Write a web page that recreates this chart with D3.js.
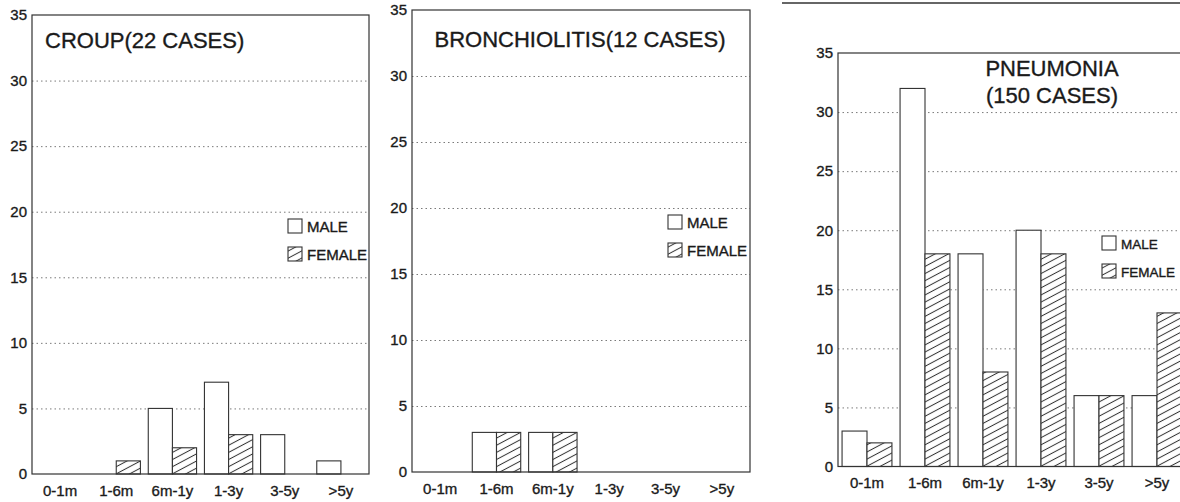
<!DOCTYPE html>
<html>
<head>
<meta charset="utf-8">
<script src="https://cdn.jsdelivr.net/npm/d3@7"></script>
<style>
  body { margin: 0; background: #fff; }
  svg { display: block; font-family: "Liberation Sans", Arial, sans-serif; }
  svg text { stroke: #1a1a1a; stroke-width: 0.35px; }
  .grid line { stroke: #7a7a7a; stroke-dasharray: 1.5,3; }
  .grid path { display: none; }
</style>
</head>
<body>
<div id="chart"></div>
<script>
var ageGroups = ["0-1m", "1-6m", "6m-1y", "1-3y", "3-5y", ">5y"];
var sexes = ["MALE", "FEMALE"];
var yTicks = [0, 5, 10, 15, 20, 25, 30, 35];

var croupMale = [0, 0, 5, 7, 3, 1];
var croupFemale = [0, 1, 2, 3, 0, 0];
var bronchMale = [0, 3, 3, 0, 0, 0];
var bronchFemale = [0, 3, 3, 0, 0, 0];
var pneuMale = [3, 32, 18, 20, 6, 6];
var pneuFemale = [2, 18, 8, 18, 6, 13];

var svg = d3.select("#chart")
  .append("svg")
  .attr("width", 1180)
  .attr("height", 502);

// hatch for female bars
svg.append("defs")
  .append("pattern")
  .attr("id", "hatch")
  .attr("patternUnits", "userSpaceOnUse")
  .attr("width", 12)
  .attr("height", 6.3)
  .attr("patternTransform", "rotate(-28)")
  .call(function (p) {
    p.append("rect").attr("width", 12).attr("height", 6.3).attr("fill", "#fff");
    p.append("line")
      .attr("x1", 0).attr("x2", 12)
      .attr("y1", 3.15).attr("y2", 3.15)
      .attr("stroke", "#333")
      .attr("stroke-width", 1);
  });

// line at the top of the right-hand figure
svg.append("line")
  .attr("x1", 782).attr("x2", 1180)
  .attr("y1", 3).attr("y2", 3)
  .attr("stroke", "#333")
  .attr("stroke-width", 1.5);

function drawPanel(p) {
  var x = d3.scaleBand()
    .domain(ageGroups)
    .range([p.left, p.right]);

  var x1 = d3.scaleBand()
    .domain(sexes)
    .range([x.bandwidth() * 0.07, x.bandwidth() * 0.93]);

  var y = d3.scaleLinear()
    .domain([0, 35])
    .range([p.bottom, p.top]);

  var g = svg.append("g");

  // dotted grid
  g.append("g")
    .attr("class", "grid")
    .attr("transform", "translate(" + p.left + ",0)")
    .call(d3.axisLeft(y)
      .tickValues([5, 10, 15, 20, 25, 30])
      .tickSize(-(p.right - p.left))
      .tickFormat(""));

  // y tick labels
  g.append("g")
    .attr("transform", "translate(" + p.left + ",0)")
    .call(d3.axisLeft(y).tickValues(yTicks).tickSize(0).tickPadding(5))
    .call(function (a) { a.select(".domain").remove(); })
    .selectAll("text")
    .style("font-size", "15px")
    .style("font-family", "Liberation Sans, Arial, sans-serif")
    .attr("fill", "#1a1a1a");

  // x tick labels
  g.append("g")
    .attr("transform", "translate(0," + p.bottom + ")")
    .call(d3.axisBottom(x).tickSize(0).tickPadding(11))
    .call(function (a) { a.select(".domain").remove(); })
    .selectAll("text")
    .style("font-size", "15px")
    .style("font-family", "Liberation Sans, Arial, sans-serif")
    .attr("fill", "#1a1a1a");

  var rows = ageGroups.map(function (a, i) {
    return { age: a, MALE: p.male[i], FEMALE: p.female[i] };
  });

  g.append("g")
    .selectAll("g")
    .data(rows)
    .enter()
    .append("g")
    .attr("transform", function (d) { return "translate(" + x(d.age) + ",0)"; })
    .selectAll("rect")
    .data(function (d) {
      return sexes.map(function (s) { return { sex: s, value: d[s] }; })
        .filter(function (e) { return e.value > 0; });
    })
    .enter()
    .append("rect")
    .attr("x", function (d) { return x1(d.sex); })
    .attr("width", x1.bandwidth())
    .attr("y", function (d) { return y(d.value); })
    .attr("height", function (d) { return y(0) - y(d.value); })
    .attr("fill", function (d) { return d.sex == "MALE" ? "#fff" : "url(#hatch)"; })
    .attr("stroke", "#333")
    .attr("stroke-width", 1.1);

  // frame
  g.append("rect")
    .attr("x", p.left)
    .attr("y", p.top)
    .attr("width", p.right - p.left)
    .attr("height", p.bottom - p.top)
    .attr("fill", "none")
    .attr("stroke", "#333")
    .attr("stroke-width", 1.2);

  // title
  var t = g.append("text")
    .attr("x", p.titleX)
    .attr("y", p.titleY)
    .attr("text-anchor", p.titleAnchor)
    .style("font-size", "22px")
    .attr("fill", "#1a1a1a");
  p.title.forEach(function (line, i) {
    t.append("tspan")
      .attr("x", p.titleX)
      .attr("dy", i == 0 ? 0 : 27)
      .text(line);
  });

  // legend
  var lg = g.append("g")
    .attr("transform", "translate(" + p.legX + "," + p.legY + ")");
  sexes.forEach(function (s, i) {
    lg.append("rect")
      .attr("x", 0)
      .attr("y", i * 28)
      .attr("width", 14)
      .attr("height", 14)
      .attr("fill", s == "MALE" ? "#fff" : "url(#hatch)")
      .attr("stroke", "#333")
      .attr("stroke-width", 1.1);
    lg.append("text")
      .attr("x", 19)
      .attr("y", i * 28 + 13)
      .style("font-size", p.legSize + "px")
      .attr("fill", "#1a1a1a")
      .text(s);
  });
}

drawPanel({
  left: 32, right: 369, top: 15, bottom: 474,
  male: croupMale, female: croupFemale,
  title: ["CROUP(22 CASES)"], titleX: 45, titleY: 48, titleAnchor: "start",
  legX: 288, legY: 219, legSize: 15
});

drawPanel({
  left: 412, right: 750, top: 10, bottom: 472,
  male: bronchMale, female: bronchFemale,
  title: ["BRONCHIOLITIS(12 CASES)"], titleX: 580, titleY: 47, titleAnchor: "middle",
  legX: 668, legY: 215, legSize: 15
});

drawPanel({
  left: 838, right: 1186, top: 53, bottom: 466.5,
  male: pneuMale, female: pneuFemale,
  title: ["PNEUMONIA", "(150 CASES)"], titleX: 1052, titleY: 76, titleAnchor: "middle",
  legX: 1102, legY: 236, legSize: 13.5
});
</script>
</body>
</html>
